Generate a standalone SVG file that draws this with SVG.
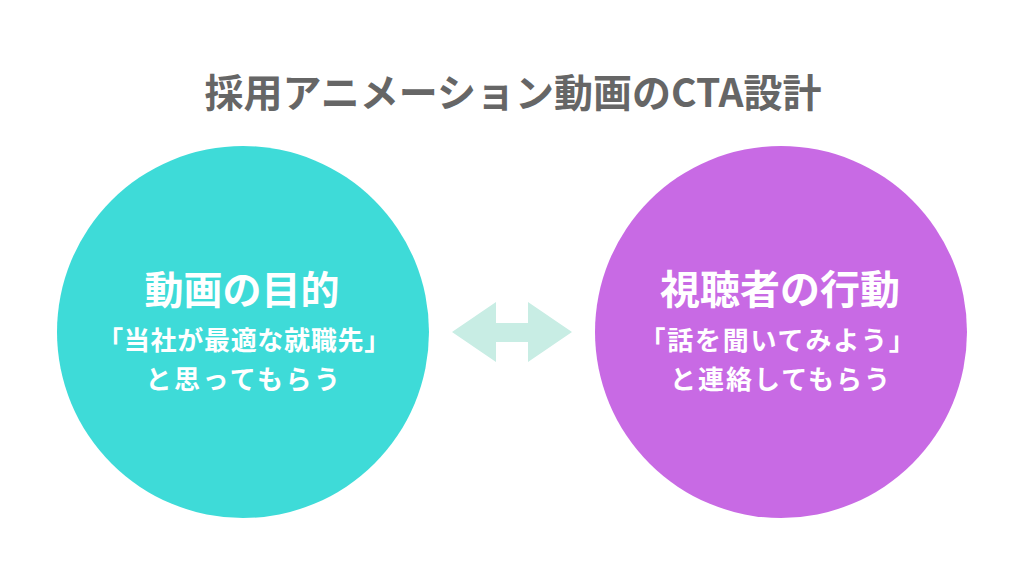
<svg xmlns="http://www.w3.org/2000/svg" width="1024" height="576" viewBox="0 0 1024 576">
<style>
text { font-family: "Noto Sans CJK JP", "Noto Sans", sans-serif; font-weight: bold; text-anchor: middle; }
.title { fill: #666666; font-size: 39px; }
.head { fill: #ffffff; font-size: 39px; }
.head2 { fill: #ffffff; font-size: 40px; }
.sub { fill: #ffffff; font-size: 26px; }
</style>
<rect width="1024" height="576" fill="#ffffff"/>
<text class="title" x="513" y="107">採用アニメーション動画のCTA設計</text>
<g id="node-purpose">
<circle cx="243" cy="332" r="186" fill="#3EDBD8"/>
<text class="head" x="242" y="304">動画の目的</text>
<text class="sub" x="244" y="350" letter-spacing="0.7">「当社が最適な就職先」</text>
<text class="sub" x="244" y="389" letter-spacing="2.5">と思ってもらう</text>
</g>
<g id="node-action">
<circle cx="781" cy="332" r="186" fill="#C86AE4"/>
<text class="head2" x="780" y="304">視聴者の行動</text>
<text class="sub" x="778" y="350" letter-spacing="1.8">「話を聞いてみよう」</text>
<text class="sub" x="781" y="389" letter-spacing="2">と連絡してもらう</text>
</g>
<g id="connectors">
<polygon points="452,332 496,302 496,323 528,323 528,302 572,332 528,362 528,342 496,342 496,362" fill="#C8EDE4"/>
</g>
</svg>
